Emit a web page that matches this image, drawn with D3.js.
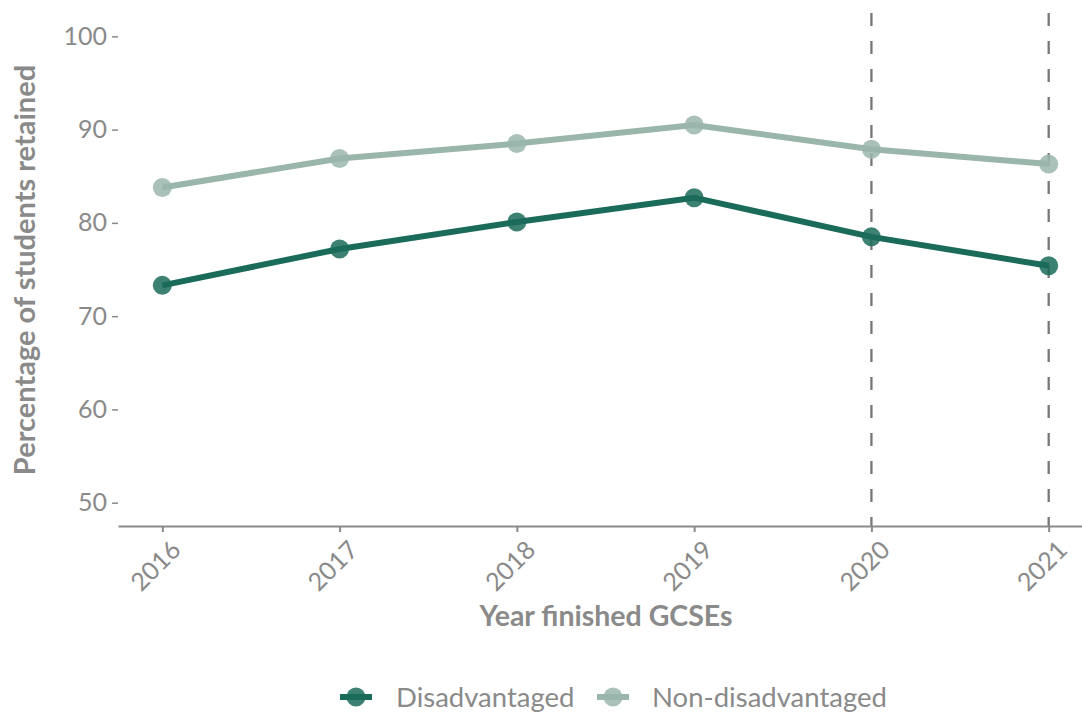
<!DOCTYPE html>
<html>
<head>
<meta charset="utf-8">
<script src="https://cdn.jsdelivr.net/npm/d3@7"></script>
<style>
  html, body { margin: 0; padding: 0; background: #fff; }
  svg { display: block; font-family: Lato, "Open Sans", sans-serif; }
</style>
</head>
<body>
<svg id="chart" width="1082" height="714"></svg>
<script>
// Retention of students after finishing GCSEs, by disadvantage status
const years = [2016, 2017, 2018, 2019, 2020, 2021];
const disadvantaged = [73.3, 77.2, 80.1, 82.7, 78.5, 75.4];
const nonDisadvantaged = [83.8, 86.9, 88.5, 90.5, 87.9, 86.3];
const yTicks = [50, 60, 70, 80, 90, 100];
const markedYears = [2020, 2021];
const seriesNames = ["Disadvantaged", "Non-disadvantaged"];
const seriesColors = ["#1b6b5b", "#9ab6ab"];

const svg = d3.select("#chart");
const grey = "#8a8a8a";
const font = 'Lato, "Open Sans", sans-serif';

const x = d3.scaleLinear().domain([2015.75, 2021.25]).range([118, 1093]);
const y = d3.scaleLinear().domain([47.5, 102.5]).range([526, 13]);

// dashed reference lines
svg.selectAll("line.ref").data(markedYears).join("line")
  .attr("class", "ref")
  .attr("x1", d => x(d)).attr("x2", d => x(d))
  .attr("y1", y(102.5)).attr("y2", y(47.5))
  .attr("stroke", "#777").attr("stroke-width", 2.3)
  .attr("stroke-dasharray", "13,15");

// y axis: labels with short tick marks, no domain line
const yAxis = svg.append("g").attr("transform", "translate(118,0)")
  .call(d3.axisLeft(y).tickValues(yTicks).tickSize(6).tickPadding(5));
yAxis.select(".domain").remove();
yAxis.selectAll(".tick line").attr("stroke", grey).attr("stroke-width", 1.5);
yAxis.selectAll(".tick text").attr("fill", grey)
  .style("font-size", "25px").style("font-family", font);

// x axis
const xAxis = svg.append("g").attr("transform", "translate(0,526)")
  .call(d3.axisBottom(x).tickValues(years).tickFormat(d3.format("d")).tickSize(6).tickSizeOuter(0));
xAxis.select(".domain").attr("stroke", grey).attr("stroke-width", 2);
xAxis.selectAll(".tick line").attr("stroke", grey).attr("stroke-width", 2);
xAxis.selectAll(".tick text")
  .attr("fill", grey).style("font-size", "25px").style("font-family", font)
  .attr("text-anchor", "end")
  .attr("dy", "0.35em")
  .attr("transform", "translate(7,13) rotate(-45)");

// axis titles
svg.append("text")
  .attr("x", 606).attr("y", 626)
  .attr("text-anchor", "middle")
  .attr("fill", grey).style("font-size", "28.5px").style("font-weight", "bold")
  .text("Year finished GCSEs");

svg.append("text")
  .attr("transform", "translate(35,270) rotate(-90)")
  .attr("text-anchor", "middle")
  .attr("fill", grey).style("font-size", "29px").style("font-weight", "bold")
  .text("Percentage of students retained");

// series
const series = [disadvantaged, nonDisadvantaged];
const line = d3.line().x((d, i) => x(years[i])).y(d => y(d));

series.forEach((vals, s) => {
  const g = svg.append("g");
  g.append("path")
    .attr("d", line(vals))
    .attr("fill", "none")
    .attr("stroke", seriesColors[s])
    .attr("stroke-width", 6);
  g.selectAll("circle").data(vals).join("circle")
    .attr("cx", (d, i) => x(years[i]))
    .attr("cy", d => y(d))
    .attr("r", 9.5)
    .attr("fill", seriesColors[s])
    .attr("fill-opacity", 0.85);
});

// legend
const legendItems = [
  { x: 340, tx: 396 },
  { x: 597, tx: 652 }
];
legendItems.forEach((it, s) => {
  const g = svg.append("g").attr("transform", `translate(0,697)`);
  g.append("line")
    .attr("x1", it.x).attr("x2", it.x + 32)
    .attr("y1", 0).attr("y2", 0)
    .attr("stroke", seriesColors[s]).attr("stroke-width", 6);
  g.append("circle")
    .attr("cx", it.x + 16).attr("cy", 0).attr("r", 9.5)
    .attr("fill", seriesColors[s]).attr("fill-opacity", 0.85);
  g.append("text")
    .attr("x", it.tx).attr("y", 0).attr("dy", "0.35em")
    .attr("fill", grey).style("font-size", "27.5px")
    .text(seriesNames[s]);
});
</script>
</body>
</html>
